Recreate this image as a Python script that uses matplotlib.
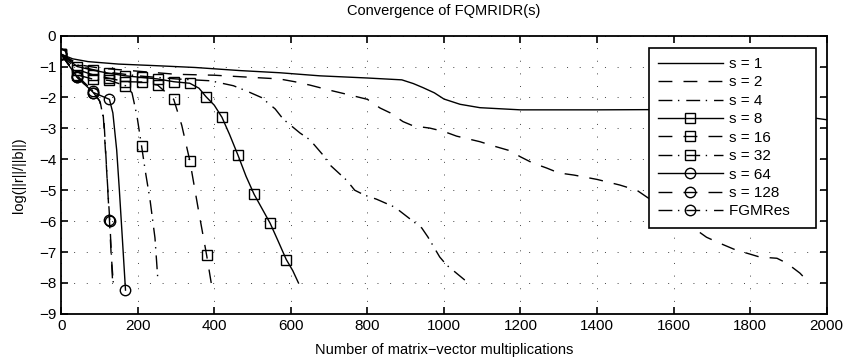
import numpy as np
import matplotlib
matplotlib.use("Agg")
import matplotlib.pyplot as plt
from matplotlib.lines import Line2D

plt.rcParams['font.family'] = ['Liberation Sans', 'DejaVu Sans']
plt.rcParams['axes.unicode_minus'] = True

# ---- data ----
s1_x = [0, 30, 70, 150, 245, 350, 467, 571, 676, 800, 890, 920, 945, 975, 1000, 1042, 1094, 1200, 1400, 1600, 1690, 1800, 1900, 1971, 2000]
s1_y = [-0.6, -0.75, -0.84, -0.92, -0.97, -1.03, -1.13, -1.2, -1.3, -1.37, -1.43, -1.55, -1.68, -1.85, -2.05, -2.22, -2.33, -2.40, -2.40, -2.39, -2.46, -2.55, -2.62, -2.67, -2.72]

s2_x = [0, 50, 100, 200, 300, 400, 470, 570, 610, 650, 700, 754, 800, 833, 860, 893, 920, 963, 1000, 1033, 1094, 1130, 1172, 1200, 1232, 1268, 1300, 1340, 1400, 1459, 1504, 1530, 1600, 1660, 1686, 1720, 1764, 1790, 1825, 1870, 1896, 1930, 1947, 1955]
s2_y = [-0.6, -0.95, -1.05, -1.15, -1.25, -1.28, -1.33, -1.4, -1.49, -1.6, -1.76, -1.92, -2.06, -2.34, -2.5, -2.78, -2.92, -2.99, -3.1, -3.25, -3.43, -3.57, -3.72, -3.92, -4.12, -4.28, -4.44, -4.51, -4.65, -4.83, -5.0, -5.22, -5.8, -6.29, -6.52, -6.71, -6.94, -7.03, -7.16, -7.2, -7.36, -7.68, -7.9, -8.0]

s4_x = [0, 50, 100, 200, 300, 390, 450, 488, 523, 559, 580, 624, 650, 684, 702, 746, 767, 793, 824, 872, 898, 942, 958, 989, 1007, 1054, 1067]
s4_y = [-0.6, -1.0, -1.15, -1.3, -1.4, -1.46, -1.62, -1.81, -2.0, -2.37, -2.7, -3.15, -3.37, -3.86, -4.18, -4.68, -5.0, -5.16, -5.29, -5.55, -5.8, -6.22, -6.51, -7.16, -7.42, -7.9, -8.0]

s8_x = [0, 42, 84, 126, 168, 210, 252, 294, 336, 360, 378, 400, 420, 440, 462, 483, 504, 525, 546, 567, 588, 605, 620]
s8_y = [-0.6, -1.0, -1.12, -1.22, -1.3, -1.35, -1.4, -1.49, -1.54, -1.7, -1.97, -2.25, -2.64, -3.2, -3.87, -4.55, -5.13, -5.6, -6.07, -6.65, -7.24, -7.6, -8.0]
s8_mark = [0, 42, 84, 126, 168, 210, 252, 294, 336, 378, 420, 462, 504, 546, 588]

s16_x = [0, 42, 84, 126, 168, 210, 252, 294, 315, 336, 358, 380, 392]
s16_y = [-0.6, -1.1, -1.27, -1.38, -1.49, -1.5, -1.6, -2.06, -2.9, -4.04, -5.6, -7.1, -8.0]
s16_mark = [0, 42, 84, 126, 168, 210, 252, 294, 336, 380]

s32_x = [0, 42, 84, 126, 168, 185, 198, 210, 220, 232, 245, 253]
s32_y = [-0.6, -1.27, -1.41, -1.45, -1.62, -1.85, -2.6, -3.57, -4.4, -5.3, -6.54, -7.97]
s32_mark = [0, 42, 84, 126, 168, 210]

s64_x = [0, 42, 84, 126, 135, 145, 152, 160, 168]
s64_y = [-0.6, -1.35, -1.84, -2.06, -2.5, -3.7, -5.0, -6.6, -8.23]
s64_mark = [0, 42, 84, 126, 168]

s128_x = [0, 42, 84, 100, 110, 118, 126, 131, 135]
s128_y = [-0.6, -1.35, -1.84, -2.1, -2.6, -4.2, -5.95, -7.2, -8.1]
s128_mark = [0, 42, 84, 126]

fgm_x = [0, 42, 84, 102, 112, 120, 127, 132, 137]
fgm_y = [-0.6, -1.3, -1.8, -2.15, -2.8, -4.6, -6.0, -7.3, -8.15]
fgm_mark = [0, 42, 84, 127]

labels = ['s = 1', 's = 2', 's = 4', 's = 8', 's = 16', 's = 32', 's = 64', 's = 128', 'FGMRes']
xticks = [0, 200, 400, 600, 800, 1000, 1200, 1400, 1600, 1800, 2000]
yticks = [0, -1, -2, -3, -4, -5, -6, -7, -8, -9]

# ---- styles ----
solid = '-'
dashed = (0, (10, 8))
dashdot = (0, (10, 4, 1, 5))

fig = plt.figure(figsize=(8.44, 3.6), dpi=100)
ax = fig.add_axes([0.0725, 0.128, 0.907, 0.773])

def idx(xs, marks):
    xs = np.asarray(xs)
    return [int(np.where(xs == m)[0][0]) for m in marks]

series = [
    (s1_x, s1_y, solid, None, None),
    (s2_x, s2_y, dashed, None, None),
    (s4_x, s4_y, dashdot, None, None),
    (s8_x, s8_y, solid, 's', s8_mark),
    (s16_x, s16_y, dashed, 's', s16_mark),
    (s32_x, s32_y, dashdot, 's', s32_mark),
    (s64_x, s64_y, solid, 'o', s64_mark),
    (s128_x, s128_y, dashed, 'o', s128_mark),
    (fgm_x, fgm_y, dashdot, 'o', fgm_mark),
]

handles = []
for (x, y, ls, mk, marks), lab in zip(series, labels):
    kw = dict(color='black', linewidth=1.0, linestyle=ls)
    mkw = {}
    if mk is not None:
        mkw = dict(marker=mk, markerfacecolor='none',
                   markeredgecolor='black', markeredgewidth=1.0,
                   markersize=6.5 if mk == 's' else 7.5)
        ax.plot(x, y, markevery=idx(x, marks), **kw, **mkw)
    else:
        ax.plot(x, y, **kw)
    handles.append(Line2D([], [], label=lab + '    ', **kw, **mkw))

ax.set_xlim(0, 2000)
ax.set_ylim(-9, 0)
ax.set_xticks(xticks)
ax.set_yticks(yticks)
ax.grid(True, color='#444444', linestyle=(0, (1, 12)), linewidth=0.7)
ax.tick_params(direction='in', top=True, right=True, length=5, width=1.2, labelsize=11)
for sp in ax.spines.values():
    sp.set_linewidth(1.3)

ax.set_title('Convergence of FQMRIDR(s)', fontsize=10.5, pad=15)
ax.set_xlabel('Number of matrix\u2212vector multiplications', fontsize=10.5, labelpad=7)
ax.set_ylabel('log(||r||/||b||)', fontsize=10.5, labelpad=9)

leg = ax.legend(handles=handles, loc='upper right', bbox_to_anchor=(0.986, 0.956),
                fontsize=11, numpoints=1,
                handlelength=4.25, handletextpad=0.4, labelspacing=0.29,
                borderpad=0.6, frameon=True, fancybox=False, edgecolor='black',
                borderaxespad=0, framealpha=1)
leg.get_frame().set_linewidth(1.2)

fig.savefig('out.png', dpi=100)
